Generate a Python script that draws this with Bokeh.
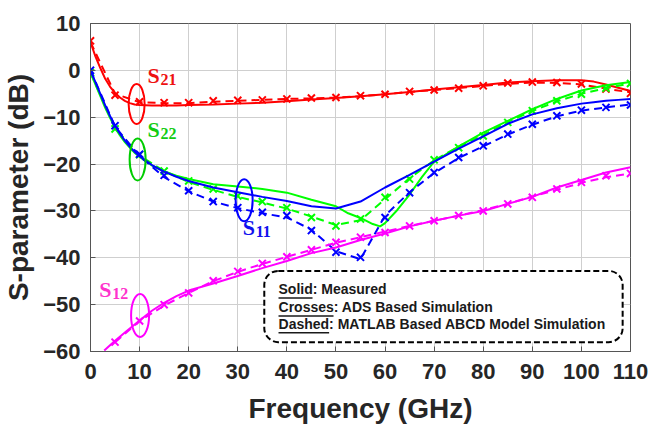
from bokeh.plotting import figure
from bokeh.models import Label, BoxAnnotation, FixedTicker, Range1d
from bokeh.embed import file_html
from bokeh.resources import INLINE

# ---------------- data ----------------
x_ticks = [0, 10, 20, 30, 40, 50, 60, 70, 80, 90, 100, 110]
y_ticks = [10, 0, -10, -20, -30, -40, -50, -60]

# ADS simulation (crosses) and MATLAB ABCD (dashed), every 5 GHz
freq_sim = [0, 5, 10, 15, 20, 25, 30, 35, 40, 45, 50, 55, 60, 65, 70, 75, 80, 85, 90, 95, 100, 105, 110]
s21_ads = [6.3, -5.3, -6.7, -6.9, -6.9, -6.5, -6.4, -6.3, -6.1, -5.9, -5.8, -5.4, -5.1, -4.5, -4.2,
           -3.8, -3.3, -2.7, -2.5, -2.6, -2.9, -4.0, -4.9]
s21_abcd = [6.0, -5.0, -6.8, -7.0, -7.0, -6.7, -6.5, -6.3, -6.1, -6.0, -5.8, -5.5, -5.1, -4.6, -4.2,
            -3.8, -3.3, -2.9, -2.6, -2.7, -3.0, -3.9, -4.7]
s11_ads = [0.0, -11.8, -17.9, -22.4, -25.7, -28.0, -29.3, -30.3, -31.0, -34.2, -38.8, -39.9, -31.4,
           -26.1, -21.8, -18.6, -16.1, -13.6, -11.5, -9.7, -8.5, -7.9, -7.4]
s11_abcd = [0.0, -12.0, -18.3, -22.8, -25.8, -28.0, -29.4, -30.5, -31.4, -34.0, -38.6, -40.3, -31.0,
            -26.0, -21.9, -18.7, -16.2, -13.7, -11.6, -9.8, -8.6, -7.9, -7.3]
s22_ads = [-0.5, -12.5, -18.0, -21.5, -23.6, -25.3, -26.8, -28.0, -29.3, -31.4, -33.2, -31.7, -27.1,
           -23.2, -19.1, -16.5, -14.0, -11.1, -8.6, -6.5, -5.1, -3.8, -2.8]
s22_abcd = [-0.5, -12.3, -18.2, -21.5, -23.8, -25.5, -27.0, -28.2, -29.5, -31.2, -33.0, -32.0, -27.5,
            -23.0, -19.2, -16.3, -13.8, -11.0, -8.7, -6.6, -5.0, -3.8, -2.8]
freq_sim12 = [5, 10, 15, 20, 25, 30, 35, 40, 45, 50, 55, 60, 65, 70, 75, 80, 85, 90, 95, 100, 105, 110]
s12_ads = [-58.0, -53.5, -50.0, -47.5, -44.9, -42.9, -41.2, -39.8, -38.3, -36.7, -35.6, -34.6, -33.2,
           -32.1, -31.0, -30.0, -28.5, -27.1, -25.3, -23.9, -22.5, -22.0]
s12_abcd = [-58.0, -53.5, -50.2, -47.5, -45.0, -43.0, -41.3, -39.8, -38.3, -36.8, -35.6, -34.4, -33.2,
            -32.1, -31.0, -29.8, -28.5, -26.9, -25.5, -24.0, -22.8, -22.0]

# Measured (solid)
freq_meas = [0, 1, 2, 3, 4, 5, 6, 7, 8, 9, 10, 12.5, 15, 17.5, 20, 25, 30, 35, 40, 45, 50, 55, 60, 65,
             70, 75, 80, 85, 90, 95, 100, 102.5, 105, 107.5, 110]
s21_meas = [6.0, 3.0, 0.5, -1.8, -3.5, -4.8, -5.8, -6.5, -7.0, -7.3, -7.4, -7.5, -7.5, -7.5, -7.4,
            -7.3, -7.1, -6.9, -6.6, -6.2, -5.9, -5.5, -5.1, -4.6, -4.1, -3.6, -3.1, -2.6, -2.3,
            -2.1, -2.1, -2.4, -3.0, -3.7, -4.4]
s11_meas = [0.0, -2.5, -5.0, -7.5, -9.8, -11.8, -13.5, -15.0, -16.3, -17.4, -18.3, -20.2, -21.6, -22.7,
            -23.6, -25.0, -26.0, -27.0, -27.9, -29.0, -29.5, -28.0, -25.0, -22.3, -19.5, -16.7, -14.1,
            -11.4, -9.4, -8.1, -7.1, -6.8, -6.5, -6.3, -6.1]
freq_meas22 = [0, 1, 2, 3, 4, 5, 6, 7, 8, 9, 10, 12.5, 15, 17.5, 20, 25, 30, 35, 40, 45, 50, 52.5, 55,
               57.5, 59, 60, 62.5, 65, 67.5, 70, 75, 80, 85, 90, 95, 100, 105, 110]
s22_meas = [-0.5, -3.0, -5.5, -8.0, -10.2, -12.2, -13.9, -15.3, -16.5, -17.6, -18.5, -20.3, -21.6, -22.5,
            -23.2, -24.3, -24.8, -25.3, -26.1, -27.6, -29.0, -30.5, -31.5, -32.8, -33.3, -32.6, -29.8,
            -26.5, -22.8, -19.5, -16.2, -13.3, -10.8, -8.3, -6.1, -4.3, -3.2, -2.5]
freq_meas12 = [2.8, 5, 7.5, 10, 12.5, 15, 17.5, 20, 25, 30, 35, 40, 45, 50, 55, 60, 65, 70, 75, 80, 85,
               90, 95, 100, 105, 110]
s12_meas = [-59.8, -57.7, -55.5, -53.4, -51.3, -49.6, -48.2, -47.0, -45.5, -43.9, -42.2, -40.7, -39.0,
            -37.8, -36.2, -34.8, -33.3, -32.1, -31.0, -30.0, -28.5, -27.0, -25.0, -23.4, -21.8, -20.7]

legend_lines = [("Solid", ": Measured"), ("Crosses", ": ADS Based Simulation"),
                ("Dashed", ": MATLAB Based ABCD Model Simulation")]

RED, GREEN, BLUE, MAG = "#ff0000", "#00ff00", "#0000ff", "#ff00ff"
DARK = "#262626"

FW, FH = 540, 328
XR, YR = (0, 110), (-60, 10)
ppx = FW / (XR[1] - XR[0])
ppy = FH / (YR[1] - YR[0])

p = figure(frame_width=FW, frame_height=FH, x_range=Range1d(*XR), y_range=Range1d(*YR),
           output_backend="svg", toolbar_location=None,
           min_border_left=87, min_border_right=20, min_border_top=23, min_border_bottom=60)
p.background_fill_color = "white"
p.outline_line_color = "#555555"
p.outline_line_width = 1

for ax in (p.xaxis[0], p.yaxis[0]):
    ax.major_label_text_font = "Liberation Sans"
    ax.major_label_text_font_style = "bold"
    ax.major_label_text_font_size = "22px"
    ax.major_label_text_color = DARK
    ax.axis_label_text_font = "Liberation Sans"
    ax.axis_label_text_font_style = "bold"
    ax.axis_label_text_font_size = "28px"
    ax.axis_label_text_color = DARK
    ax.major_tick_in = 5
    ax.major_tick_out = 0
    ax.minor_tick_in = 0
    ax.minor_tick_out = 0
    ax.axis_line_color = "#555555"
    ax.major_tick_line_color = "#555555"

p.xaxis.ticker = FixedTicker(ticks=x_ticks)
p.yaxis.ticker = FixedTicker(ticks=y_ticks)
p.xaxis.axis_label = "Frequency (GHz)"
p.yaxis.axis_label = "S-parameter (dB)"
p.xaxis.major_label_standoff = 12
p.xaxis.axis_label_standoff = 11
p.yaxis.major_label_standoff = 10
p.yaxis.axis_label_standoff = 6

p.grid.grid_line_color = "#cfcfcf"
p.grid.grid_line_width = 1

# ---------------- curves ----------------
series = [
    (freq_meas, s21_meas, freq_sim, s21_ads, freq_sim, s21_abcd, RED),
    (freq_meas22, s22_meas, freq_sim, s22_ads, freq_sim, s22_abcd, GREEN),
    (freq_meas, s11_meas, freq_sim, s11_ads, freq_sim, s11_abcd, BLUE),
    (freq_meas12, s12_meas, freq_sim12, s12_ads, freq_sim12, s12_abcd, MAG),
]
for fm, m, fa, a, fd, d, c in series:
    p.line(fd, d, line_color=c, line_width=2, line_dash="8 5")
    p.line(fm, m, line_color=c, line_width=2)
    p.scatter(fa, a, marker="x", size=10, line_color=c, line_width=2)

# ---------------- annotations ----------------
ell = [(9.4, -7.2, 16, 40, RED), (9.6, -19.0, 16, 42, "#00cc00"),
       (31.3, -27.7, 17, 42, BLUE), (10.1, -52.3, 18, 43, MAG)]
for ex, ey, ew, eh, c in ell:
    p.ellipse(x=[ex], y=[ey], width=[ew], height=[eh], width_units="screen", height_units="screen",
              fill_alpha=0, line_color=c, line_width=2)

slabels = [(11.6, -1.0, "21", "#ee1111"), (11.6, -12.7, "22", "#11cc11"),
           (31.0, -33.6, "11", "#1111ee"), (1.8, -46.8, "12", "#ff33cc")]
for sx, sy, sub, c in slabels:
    p.add_layout(Label(x=sx, y=sy, text="S", text_font="Liberation Serif", text_font_style="bold",
                       text_font_size="22px", text_color=c, text_baseline="alphabetic"))
    p.add_layout(Label(x=sx, y=sy, x_offset=13, y_offset=-4, text=sub, text_font="Liberation Serif",
                       text_font_style="bold", text_font_size="16px", text_color=c,
                       text_baseline="alphabetic"))

# legend box
p.add_layout(BoxAnnotation(left=35.4, right=108.4, top=-42.8, bottom=-58.0, fill_color="white",
                           fill_alpha=1, line_color="black", line_alpha=1, line_width=2,
                           line_dash="6 3", border_radius=14, level="annotation"))
lx = 38.3
base_y = [-47.65, -51.5, -55.1]
word_w = [34, 55, 50.6]
for (w1, rest), by, ww in zip(legend_lines, base_y, word_w):
    p.add_layout(Label(x=lx, y=by + 5 / ppy, text=w1 + rest, text_font="Liberation Sans",
                       text_font_style="bold", text_font_size="14px", text_color="#1a1a1a",
                       text_baseline="alphabetic"))
    p.add_layout(BoxAnnotation(left=lx, right=lx + ww / ppx, top=by - 3.5 / ppy, bottom=by - 5 / ppy,
                               fill_color="#1a1a1a", fill_alpha=1, line_alpha=0))

open("out.html", "w").write(file_html(p, INLINE))
